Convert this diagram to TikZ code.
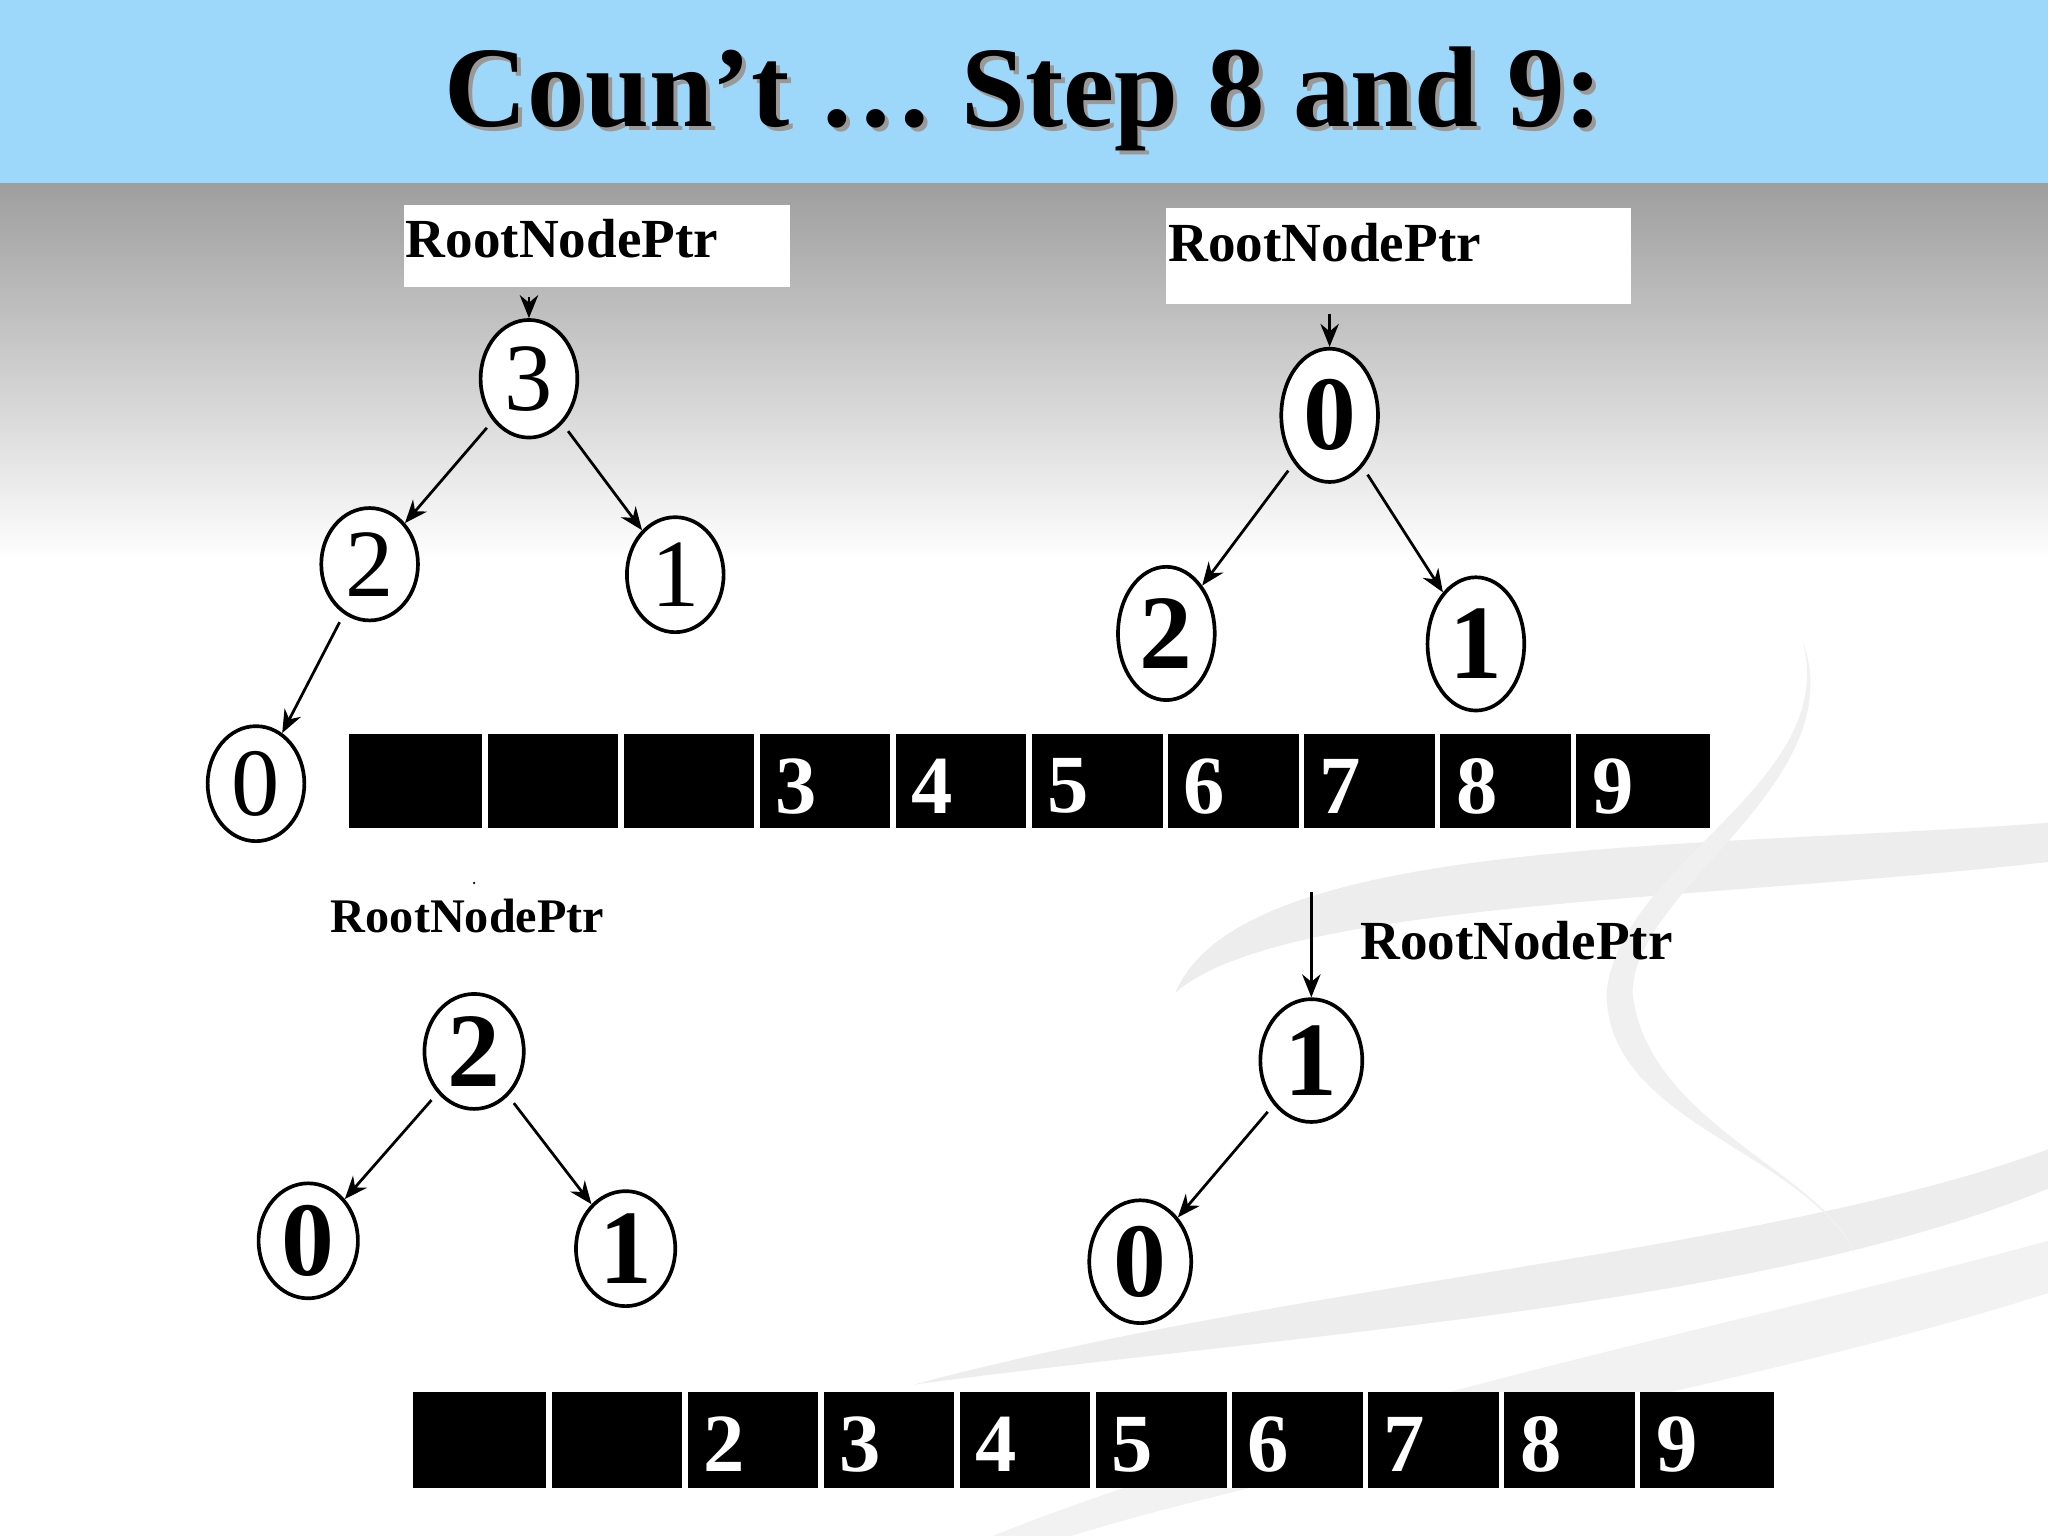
\documentclass[tikz,border=0pt]{standalone}
\usepackage{fontspec}
\setmainfont{Liberation Serif}
\usetikzlibrary{shapes.geometric,arrows.meta}
\begin{document}
\begin{tikzpicture}[x=0.01cm,y=-0.01cm,
  nd/.style={draw,ellipse,fill=white,line width=0.8pt,inner sep=0pt,font=\fontsize{21}{24}\selectfont},
  sz/.style 2 args={minimum width=#1*0.2845pt,minimum height=#2*0.2845pt},
  ed/.style={-{Stealth[length=5pt,width=4pt]},line width=0.6pt,shorten <=2pt},
  lbl/.style={font=\bfseries\fontsize{12}{14}\selectfont,inner sep=0pt},
  bd/.style={font=\bfseries\fontsize{23}{26}\selectfont},
  cell/.style={font=\bfseries\fontsize{18}{20}\selectfont,text=white}]
\useasboundingbox (0,0) rectangle (1568,1176);
\shade[top color=black!38,bottom color=white] (0,140) rectangle (1568,430);
\fill[white] (0,430) rectangle (1568,1176);
% faint swooshes
\fill[black!7] (900,760) .. controls (950,640) and (1300,650) .. (1568,630) -- (1568,660) .. controls (1300,690) and (980,690) .. (900,760);
\fill[black!7] (700,1060) .. controls (1000,980) and (1350,960) .. (1568,880) -- (1568,910) .. controls (1350,1000) and (1000,1020) .. (700,1060);
\fill[black!6] (1380,490) .. controls (1420,600) and (1250,680) .. (1250,760) .. controls (1260,860) and (1400,900) .. (1420,960) .. controls (1380,880) and (1230,860) .. (1230,760) .. controls (1240,660) and (1410,600) .. (1380,490);
\fill[black!5] (760,1176) .. controls (1000,1080) and (1350,1010) .. (1568,950) -- (1568,990) .. controls (1350,1060) and (1000,1120) .. (820,1176);
\fill[color={rgb,255:red,157;green,216;blue,251}] (0,0) rectangle (1568,140);
\node[font=\bfseries\fontsize{25}{30}\selectfont,text=black!40] at (787,79) {Coun’t … Step 8 and 9:};
\node[font=\bfseries\fontsize{25}{30}\selectfont] (title) at (784,76) {Coun’t … Step 8 and 9:};
% top-left tree
\fill[white] (309,157) rectangle (605,220);
\node[lbl,anchor=north west] (t1) at (310,167) {RootNodePtr};
\coordinate (b1s) at (405,220);
\node[nd,sz={74}{90}] (a3) at (405,290) {3};
\node[nd,sz={74}{86}] (a2) at (283,432) {2};
\node[nd,sz={74}{88}] (a1) at (517,440) {1};
\node[nd,sz={74}{88}] (a0) at (196,600) {0};
\draw[ed] (b1s) -- (a3);
\draw[ed] (a3) -- (a2);
\draw[ed] (a3) -- (a1);
\draw[ed] (a2) -- (a0);
% top array
\fill[black] (267,562) rectangle (1309,634);
\foreach \i in {1,...,9} \draw[white,line width=1.2pt] (267+\i*104.2,562) -- (267+\i*104.2,634);
\foreach \i/\d in {3/3,4/4,5/5,6/6,7/7,8/8,9/9}
  \node[cell] (c\d) at (267+\i*104.2+30,602) {\d};
% top-right tree
\fill[white] (893,159) rectangle (1249,233);
\node[lbl,anchor=north west] (t2) at (894,170) {RootNodePtr};
\coordinate (b2s) at (1018,233);
\node[nd,bd,sz={74}{102}] (r0) at (1018,318) {0};
\node[nd,bd,sz={74}{102}] (r2) at (893,485) {2};
\node[nd,bd,sz={74}{102}] (r1) at (1130,493) {1};
\draw[ed] (b2s) -- (r0);
\draw[ed] (r0) -- (r2);
\draw[ed] (r0) -- (r1);
% bottom-left tree
\node[lbl,font=\bfseries\fontsize{10.5}{12}\selectfont] (t3) at (358,701) {RootNodePtr};
\node[nd,bd,sz={76}{88}] (l2) at (363,805) {2};
\node[nd,bd,sz={76}{88}] (l0) at (236,950) {0};
\node[nd,bd,sz={76}{88}] (l1) at (479,956) {1};
\fill (363,676) circle (1);
\draw[ed] (l2) -- (l0);
\draw[ed] (l2) -- (l1);
% bottom-right tree
\coordinate (s4) at (1004,676);
\node[lbl] (t4) at (1161,720) {RootNodePtr};
\node[nd,bd,sz={78}{94}] (q1) at (1004,812) {1};
\node[nd,bd,sz={78}{94}] (q0) at (873,966) {0};
\draw[ed] (s4) -- (q1);
\draw[ed] (q1) -- (q0);
% bottom array
\fill[black] (316,1066) rectangle (1358,1139);
\foreach \i in {1,...,9} \draw[white,line width=1.2pt] (316+\i*104.2,1066) -- (316+\i*104.2,1139);
\foreach \i/\d in {2/2,3/3,4/4,5/5,6/6,7/7,8/8,9/9}
  \node[cell] (e\d) at (316+\i*104.2+30,1106) {\d};
\end{tikzpicture}
\end{document}
